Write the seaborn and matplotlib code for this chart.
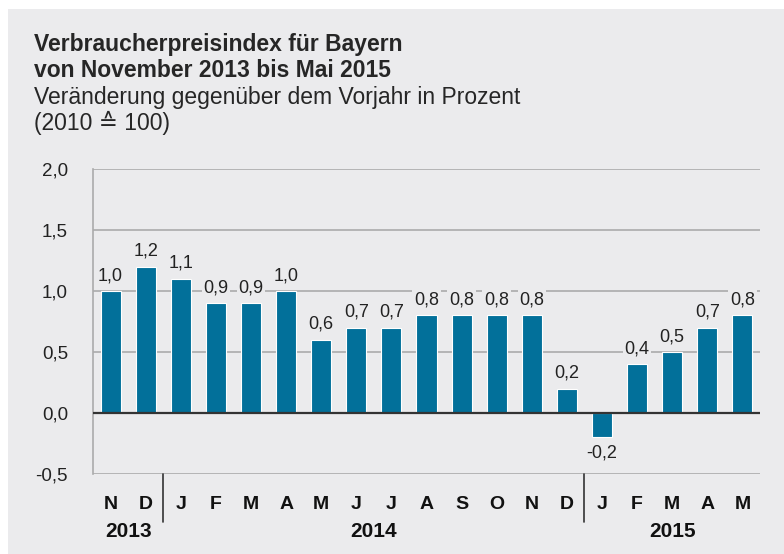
import matplotlib
matplotlib.use("Agg")
import matplotlib.pyplot as plt
import matplotlib.transforms as mtransforms
from matplotlib.patches import Rectangle
import seaborn as sns
import pandas as pd

months = ["N", "D", "J", "F", "M", "A", "M", "J", "J", "A", "S", "O", "N", "D", "J", "F", "M", "A", "M"]
values = [1.0, 1.2, 1.1, 0.9, 0.9, 1.0, 0.6, 0.7, 0.7, 0.8, 0.8, 0.8, 0.8, 0.2, -0.2, 0.4, 0.5, 0.7, 0.8]
years = ["2013", "2014", "2015"]
year_spans = [(0, 1), (2, 13), (14, 18)]
yticks = [-0.5, 0.0, 0.5, 1.0, 1.5, 2.0]

title1 = "Verbraucherpreisindex für Bayern"
title2 = "von November 2013 bis Mai 2015"
sub1 = "Veränderung gegenüber dem Vorjahr in Prozent"
sub2 = "(2010 ≙ 100)"

BG = "#EBEBED"
BAR = "#02709A"
GRID = "#ABABAB"

sns.set_style("white")
plt.rcParams["font.family"] = ["Liberation Sans", "DejaVu Sans"]

df = pd.DataFrame({"idx": list(range(len(values))), "val": values})

fig = plt.figure(figsize=(7.84, 5.54), dpi=100, facecolor="white")
fig.patches.append(Rectangle((8 / 784, 0), 1, 1 - 9 / 554, transform=fig.transFigure,
                             facecolor=BG, edgecolor="none", zorder=-10))
ax = fig.add_axes([93 / 784, 1 - 474 / 554, (760 - 93) / 784, (474 - 169) / 554])
ax.set_facecolor(BG)

sns.barplot(data=df, x="idx", y="val", color=BAR, saturation=1, width=0.57,
            edgecolor="white", linewidth=0.8, ax=ax, zorder=2)

ax.set_xlim(-0.5, len(values) - 0.5)
ax.set_ylim(-0.5, 2.0)
ax.set_yticks(yticks)
ax.set_yticklabels([f"{v:.1f}".replace(".", ",") for v in yticks], fontsize=13.5, color="#222222")
ax.grid(axis="y", color=GRID, linewidth=1.2, zorder=0)
ax.tick_params(axis="y", length=7, width=1.2, color=GRID, pad=11)
ax.set_xticks(range(len(values)))
ax.set_xticklabels(months, fontsize=14, fontweight="bold", color="#111111")
ax.tick_params(axis="x", length=0, pad=16)
ax.set_xlabel("")
ax.set_ylabel("")
for s in ["top", "right", "bottom"]:
    ax.spines[s].set_visible(False)
ax.spines["left"].set_color(GRID)
ax.spines["left"].set_linewidth(1.2)
ax.axhline(0, color="#333333", linewidth=1.6, zorder=3)

for i, v in enumerate(values):
    lab = f"{v:.1f}".replace(".", ",")
    if v >= 0:
        ax.annotate(lab, (i, v), xytext=(0, 5), textcoords="offset points", ha="center", va="bottom",
                    fontsize=13, color="#222222", zorder=4,
                    bbox=dict(boxstyle="square,pad=0.1", facecolor=BG, edgecolor="none"))
    else:
        ax.annotate(lab, (i, v), xytext=(0, -5), textcoords="offset points", ha="center", va="top",
                    fontsize=13, color="#222222", zorder=4,
                    bbox=dict(boxstyle="square,pad=0.1", facecolor=BG, edgecolor="none"))

trans = mtransforms.blended_transform_factory(ax.transData, ax.transAxes)
for (a, b), yr in zip(year_spans, years):
    ax.text((a + b) / 2, -0.187, yr, transform=trans, ha="center", va="center",
            fontsize=15, fontweight="bold", color="#111111")
for (a, b) in year_spans[:-1]:
    ax.plot([b + 0.5, b + 0.5], [0, -0.157], transform=trans, color="#333333",
            linewidth=1.2, clip_on=False)

fig.text(34 / 784, 1 - 51 / 554, title1, fontsize=16.5, fontweight="bold", ha="left", va="baseline")
fig.text(34 / 784, 1 - 77 / 554, title2, fontsize=16.5, fontweight="bold", ha="left", va="baseline")
fig.text(34 / 784, 1 - 104 / 554, sub1, fontsize=16.5, ha="left", va="baseline")
fig.text(34 / 784, 1 - 130 / 554, sub2, fontsize=16.5, ha="left", va="baseline")

fig.savefig("out.png", dpi=100, facecolor="white")
